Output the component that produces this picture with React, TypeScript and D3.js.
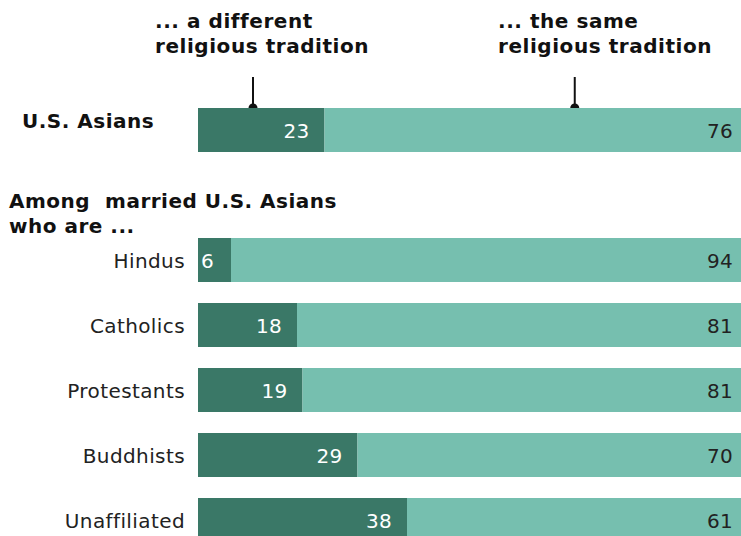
import React from "react";
import * as d3 from "d3";

const groups = ["U.S. Asians", "Hindus", "Catholics", "Protestants", "Buddhists", "Unaffiliated"];
const different = [23, 6, 18, 19, 29, 38];
const same = [76, 94, 81, 81, 70, 61];
const headers = [
  ["... a different", "religious tradition"],
  ["... the same", "religious tradition"],
];
const subtitle = ["Among\u00a0 married U.S. Asians", "who are ..."];

const W = 741;
const H = 536;
const DARK = "#3a7867";
const LIGHT = "#76bfaf";

export default function App() {
  const x = d3.scaleLinear().domain([0, 100]).range([198, 748]);
  const rowTops = [108, 238, 303, 368, 433, 498];
  const bh = 44;
  const font = "'DejaVu Sans', Verdana, sans-serif";
  const markers = [x(10), x(68.5)];
  const headerX = [155, 498];
  return (
    <svg width={W} height={H} style={{ position: "absolute", left: 0, top: 0, background: "#fff" }} fontFamily={font}>
      <g fontWeight="bold" fontSize={20} fill="#111" letterSpacing={0.55}>
        {headers.map((lines, k) => (
          <g key={k}>
            <text x={headerX[k]} y={28}>{lines[0]}</text>
            <text x={headerX[k]} y={53}>{lines[1]}</text>
          </g>
        ))}
      </g>
      {markers.map((mx, k) => (
        <g key={k}>
          <line x1={mx} x2={mx} y1={77} y2={108} stroke="#111" strokeWidth={2} />
          <circle cx={mx} cy={108} r={4.5} fill="#111" />
        </g>
      ))}
      <text x={22} y={128} fontWeight="bold" fontSize={20} letterSpacing={0.5} fill="#111">{groups[0]}</text>
      <g fontWeight="bold" fontSize={20} fill="#111" letterSpacing={0.5}>
        <text x={9} y={208}>{subtitle[0]}</text>
        <text x={9} y={233}>{subtitle[1]}</text>
      </g>
      {groups.map((g, i) => {
        const y0 = rowTops[i];
        const d = different[i];
        const s = same[i];
        const cy = y0 + bh / 2;
        return (
          <g key={g}>
            <rect x={x(0)} y={y0} width={x(d) - x(0)} height={bh} fill={DARK} />
            <rect x={x(d)} y={y0} width={x(d + s) - x(d)} height={bh} fill={LIGHT} />
            {i > 0 && (
              <text x={185} y={cy + 7.5} textAnchor="end" fontSize={20} letterSpacing={0.4} fill="#222">{g}</text>
            )}
            <text
              x={d < 10 ? x(0) + 3 : x(d) - 15}
              y={cy + 8}
              textAnchor={d < 10 ? "start" : "end"}
              fontSize={20}
              letterSpacing={0.3}
              fill="#fff"
            >{d}</text>
            <text x={733} y={cy + 8} textAnchor="end" fontSize={20} letterSpacing={0.3} fill="#222">{s}</text>
          </g>
        );
      })}
    </svg>
  );
}
